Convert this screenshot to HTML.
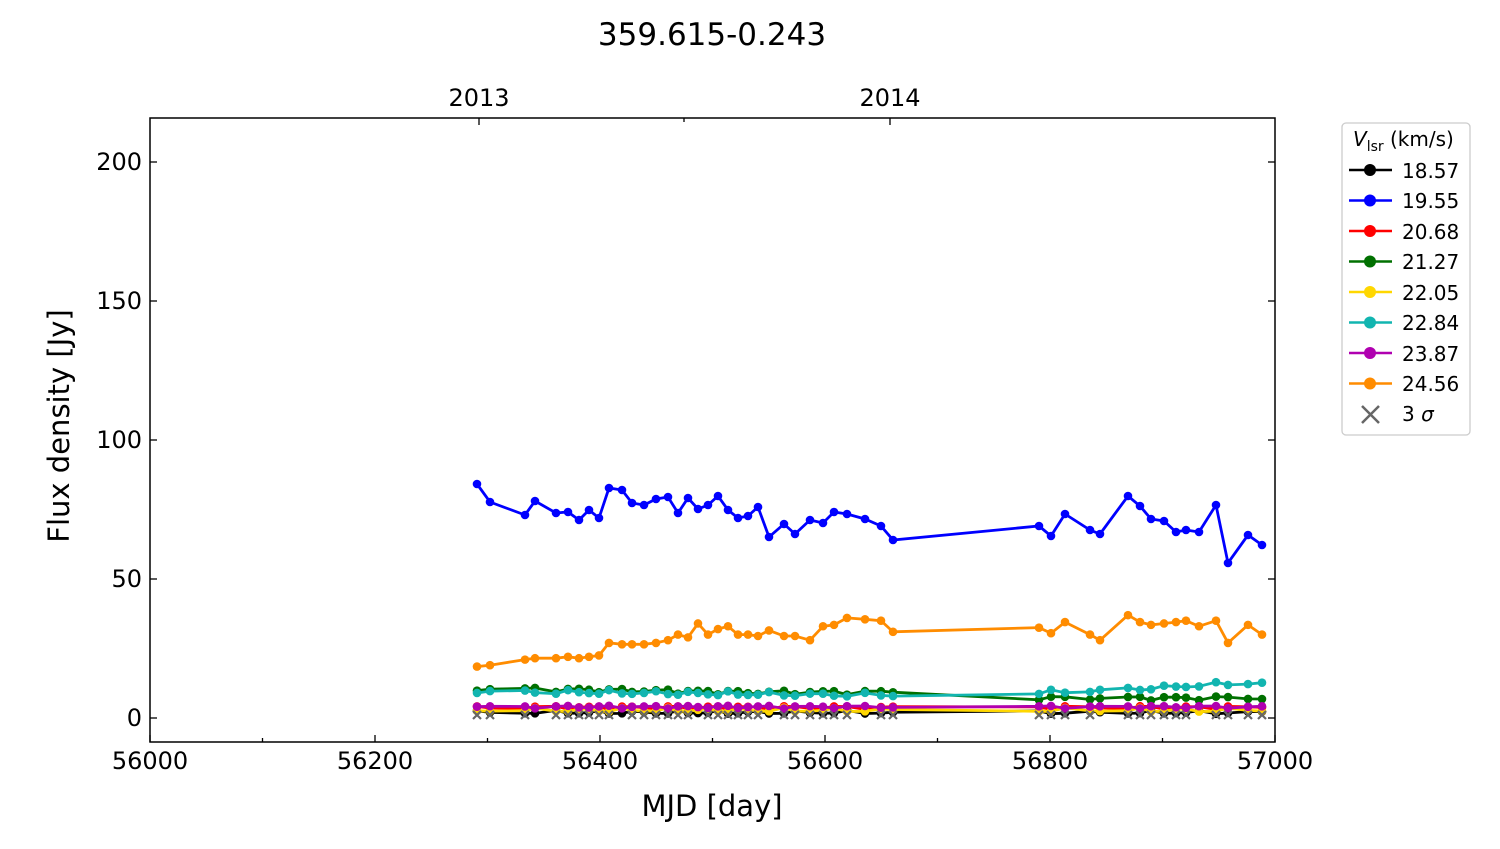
<!DOCTYPE html>
<html><head><meta charset="utf-8"><style>
body{margin:0;background:#fff}
svg text{font-family:"DejaVu Sans","Liberation Sans",sans-serif;fill:#000}
</style></head><body>
<svg id="s" width="1500" height="844" viewBox="0 0 1500 844" xmlns="http://www.w3.org/2000/svg">
<rect width="1500" height="844" fill="#fff"/>
<text x="712" y="45" font-size="31" text-anchor="middle">359.615-0.243</text>
<text x="479" y="106" font-size="24" text-anchor="middle">2013</text>
<text x="890" y="106" font-size="24" text-anchor="middle">2014</text>
<g font-size="24" text-anchor="middle">
<text x="150" y="769">56000</text><text x="375" y="769">56200</text><text x="600" y="769">56400</text>
<text x="825" y="769">56600</text><text x="1050" y="769">56800</text><text x="1275" y="769">57000</text>
</g>
<g font-size="24" text-anchor="end">
<text x="142" y="726">0</text><text x="142" y="587">50</text><text x="142" y="448">100</text>
<text x="142" y="309">150</text><text x="142" y="170">200</text>
</g>
<text x="712" y="816" font-size="29" text-anchor="middle">MJD [day]</text>
<text transform="translate(69,426) rotate(-90)" font-size="29" text-anchor="middle">Flux density [Jy]</text>
<g id="data"></g>
<g id="ticks" stroke="#000" stroke-width="1.3"></g>
<rect x="150" y="118" width="1125" height="624" fill="none" stroke="#000" stroke-width="1.5"/>
<rect x="1342" y="123" width="128" height="312" rx="4" fill="#fff" stroke="#ccc" stroke-width="1.3"/>
<text x="1353" y="146" font-size="20"><tspan font-style="italic">V</tspan><tspan font-size="14" dy="5">lsr</tspan><tspan dy="-5"> (km/s)</tspan></text>
<g id="leg"></g>
<g font-size="20">
<text x="1402" y="178">18.57</text><text x="1402" y="208">19.55</text><text x="1402" y="239">20.68</text>
<text x="1402" y="269">21.27</text><text x="1402" y="300">22.05</text><text x="1402" y="330">22.84</text>
<text x="1402" y="361">23.87</text><text x="1402" y="391">24.56</text>
<text x="1402" y="421">3 <tspan font-style="italic">σ</tspan></text>
</g>
</svg>
<script>
var NS="http://www.w3.org/2000/svg";
function el(p,t,a){var e=document.createElementNS(NS,t);for(var k in a)e.setAttribute(k,a[k]);p.appendChild(e);return e;}
var X=[477,490,525,535,556,568,579,589,599,609,622,632,644,656,668,678,688,698,708,718,728,738,748,758,769,784,795,810,823,834,847,865,881,893,1039,1051,1065,1090,1100,1128,1140,1151,1164,1176,1186,1199,1216,1228,1248,1262];
var blueY=[484,502,515,501,513,512,520,510,518,488,490,503,505,499,497,513,498,509,505,496,510,518,516,507,537,524,534,520,523,512,514,519,526,540,526,536,514,530,534,496,506,519,521,532,530,532,505,563,535,545];
var orange=[18.5,19,21,21.5,21.5,22,21.5,22,22.5,27,26.5,26.5,26.5,27,28,30,29,34,30,32,33,30,30,29.5,31.5,29.5,29.5,28,33,33.5,36,35.5,35,31,32.5,30.5,34.5,30,28,37,34.5,33.5,34,34.5,35,33,35,27,33.5,30];
function Y(v){return 718-v*2.78;}
function wob(base,amp,i,seed){return base+amp*Math.sin(i*1.7+seed)+amp*0.5*Math.cos(i*2.9+seed);}
var series=[];
var n=X.length;
function gen(f){var a=[];for(var i=0;i<n;i++)a.push(Y(f(i)));return a;}
series.push({c:"#000",y:gen(function(i){return wob(2,0.5,i,1);})});
series.push({c:"#ff0000",y:gen(function(i){return wob(3.8,0.5,i,2);})});
series.push({c:"#ffd700",y:gen(function(i){return wob(2.8,0.6,i,3);})});
series.push({c:"#007000",y:gen(function(i){var b=i<25?10.5-i*0.06:(i<34?9.3:7.2);return wob(b,0.6,i,4);})});
series.push({c:"#12b5b0",y:gen(function(i){var b=i<34?9.5-i*0.04:(9+(i-34)*0.25);return wob(b,0.6,i,5);})});
series.push({c:"#b000b0",y:gen(function(i){return wob(4,0.4,i,6);})});
series.push({c:"#ff8c00",y:orange.map(Y)});
series.push({c:"#0000ff",y:blueY});
var d=document.getElementById("data");
series.forEach(function(s){
 var pts=X.map(function(x,i){return x+","+s.y[i].toFixed(1)}).join(" ");
 el(d,"polyline",{points:pts,fill:"none",stroke:s.c,"stroke-width":2.8});
 X.forEach(function(x,i){el(d,"circle",{cx:x,cy:s.y[i],r:4.3,fill:s.c});});
});
X.forEach(function(x,i){if(i%7==3)return;var y=715;
 el(d,"path",{d:"M"+(x-4)+","+(y-4)+"L"+(x+4)+","+(y+4)+"M"+(x-4)+","+(y+4)+"L"+(x+4)+","+(y-4),stroke:"#666","stroke-width":2.2});});
var t=document.getElementById("ticks");
for(var i=0;i<=10;i++){var x=150+i*112.5;var L=i%2==0?7:4;
 el(t,"line",{x1:x,y1:742,x2:x,y2:742-L});}
[479,890].forEach(function(x){el(t,"line",{x1:x,y1:118,x2:x,y2:125});});
[684].forEach(function(x){el(t,"line",{x1:x,y1:118,x2:x,y2:122});});
for(var v=0;v<=200;v+=50){var y=Y(v);el(t,"line",{x1:150,y1:y,x2:157,y2:y});el(t,"line",{x1:1275,y1:y,x2:1268,y2:y});}
var lg=document.getElementById("leg");
var cols=["#000","#0000ff","#ff0000","#007000","#ffd700","#12b5b0","#b000b0","#ff8c00"];
cols.forEach(function(c,i){var y=170+i*30.5;
 el(lg,"line",{x1:1349,y1:y,x2:1392,y2:y,stroke:c,"stroke-width":2.6});
 el(lg,"circle",{cx:1370,cy:y,r:6,fill:c});});
el(lg,"path",{d:"M1362,406L1379,423M1362,423L1379,406",stroke:"#666","stroke-width":2.5});
</script>
</body></html>
